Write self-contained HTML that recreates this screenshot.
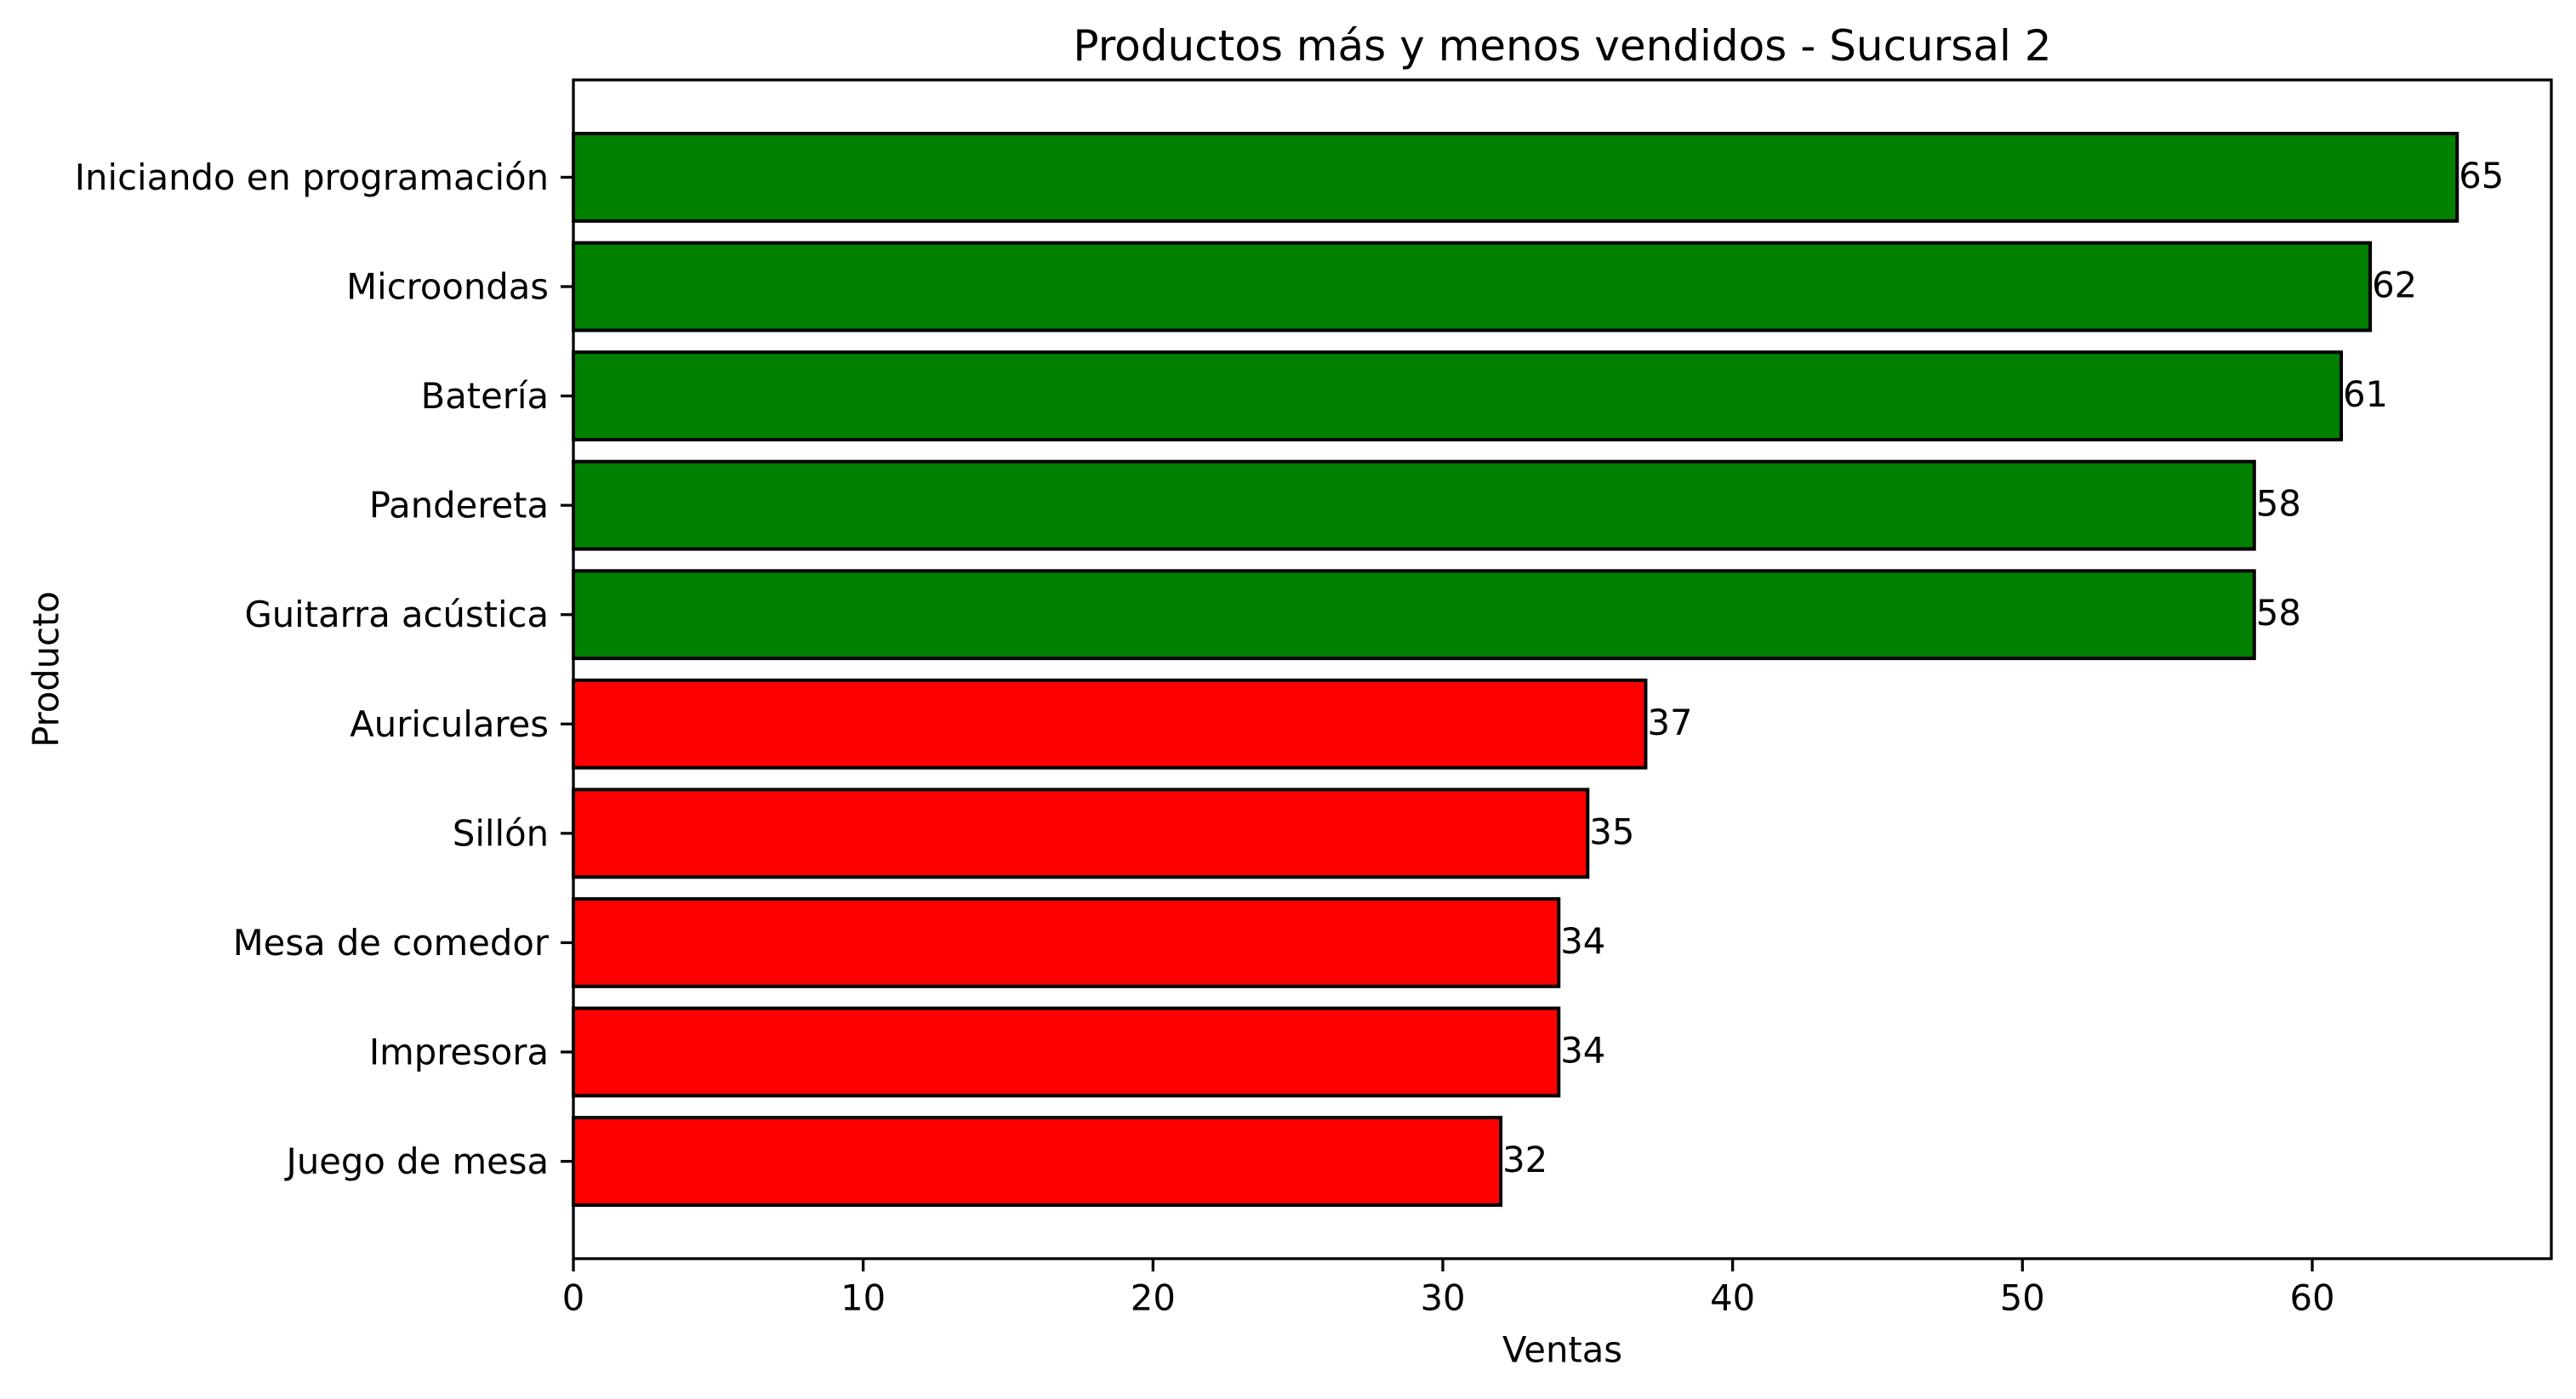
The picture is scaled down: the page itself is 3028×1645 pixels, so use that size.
<!DOCTYPE html>
<html><head><meta charset="utf-8"><style>
html,body{margin:0;padding:0;background:#fff;}
svg text{font-family:"DejaVu Sans","Liberation Sans",sans-serif;fill:#000;}
</style></head><body>
<svg id="chart" width="3028" height="1640" xmlns="http://www.w3.org/2000/svg">
<rect width="3028" height="1640" fill="#fff"/>
<g id="plot"></g>
</svg>
<script>
const categories = ["Iniciando en programación","Microondas","Batería","Pandereta","Guitarra acústica","Auriculares","Sillón","Mesa de comedor","Impresora","Juego de mesa"];
const values = [65,62,61,58,58,37,35,34,34,32];
const groups = ["top","top","top","top","top","bottom","bottom","bottom","bottom","bottom"];
const xTicks = [0,10,20,30,40,50,60];

const L=674,R=2999,T=94,B=1480;
const xMax=68.25;
const n=categories.length;
const yLo=-0.89, yHi=(n-1)+0.89;
function xs(v){return L+(v/xMax)*(R-L);}
function ys(i){return T+((i-yLo)/(yHi-yLo))*(B-T);}
const NS="http://www.w3.org/2000/svg";
const g=document.getElementById('plot');
function mk(tag,attrs,parent){const e=document.createElementNS(NS,tag);for(const k in attrs)e.setAttribute(k,attrs[k]);(parent||g).appendChild(e);return e;}
function txt(x,y,s,size,anchor,rot){
  const e=mk('text',{transform:`translate(${x},${y})${rot?' rotate(-90)':''}`,'font-size':size,'text-anchor':anchor,'dominant-baseline':'central'});
  e.textContent=s;return e;}
const bh=0.8*(B-T)/(yHi-yLo);
for(let i=0;i<n;i++){
  const cy=ys(i);
  const r=mk('rect',{x:xs(0),y:cy-bh/2,width:xs(values[i])-xs(0),height:bh,fill:groups[i]==="top"?"#008000":"#ff0000",stroke:"#000","stroke-width":4});
  
  
  const v=txt(xs(values[i])+2,cy-2,String(values[i]),41.7,'start');
  
  
  const t=mk('line',{x1:L,x2:L-15,y1:cy,y2:cy,stroke:'#000','stroke-width':3.3});
  
  
  const lb=txt(L-29,cy,categories[i],41.7,'end');
  
  
}
xTicks.forEach((v,k)=>{
  const x=xs(v);
  const t=mk('line',{x1:x,x2:x,y1:B,y2:B+15,stroke:'#000','stroke-width':3.3});
  
  
  const lb=txt(x,B+46,String(v),41.7,'middle');
  
  
});
const frame=mk('rect',{x:L,y:T,width:R-L,height:B-T,fill:'none',stroke:'#000','stroke-width':3.3});


const title=txt((L+R)/2,54,"Productos más y menos vendidos - Sucursal 2",50,'middle');


const xl=txt((L+R)/2,1587,"Ventas",41.7,'middle');


const yl=txt(54,(T+B)/2,"Producto",41.7,'middle',true);


</script>
</body></html>
